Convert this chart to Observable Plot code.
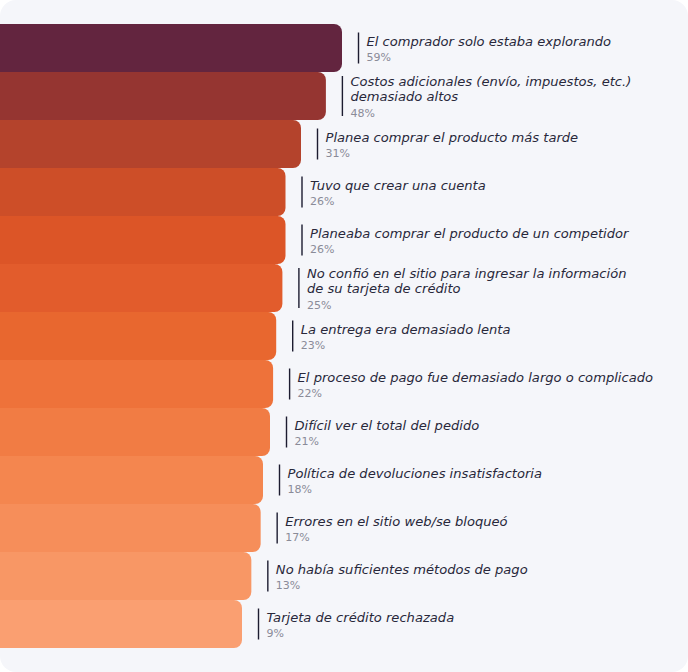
<!DOCTYPE html>
<html>
<head>
<meta charset="utf-8">
<script src="https://cdn.jsdelivr.net/npm/d3@7"></script>
<script src="https://cdn.jsdelivr.net/npm/@observablehq/plot@0.6"></script>
<style>
  html, body { margin: 0; padding: 0; background: #ffffff; }
  #card { width: 688px; height: 672px; background: #f5f6fa; border-radius: 16px; overflow: hidden; }
</style>
</head>
<body>
<div id="card"></div>
<script>
const labels = [
  "El comprador solo estaba explorando",
  "Costos adicionales (envío, impuestos, etc.)\ndemasiado altos",
  "Planea comprar el producto más tarde",
  "Tuvo que crear una cuenta",
  "Planeaba comprar el producto de un competidor",
  "No confió en el sitio para ingresar la información\nde su tarjeta de crédito",
  "La entrega era demasiado lenta",
  "El proceso de pago fue demasiado largo o complicado",
  "Difícil ver el total del pedido",
  "Política de devoluciones insatisfactoria",
  "Errores en el sitio web/se bloqueó",
  "No había suficientes métodos de pago",
  "Tarjeta de crédito rechazada"
];
const values = [59, 48, 31, 26, 26, 25, 23, 22, 21, 18, 17, 13, 9];
const colors = [
  "#63253f", "#953531", "#b4432c", "#cd4e28", "#dc5527", "#e25c2c", "#e8672f",
  "#ee723a", "#f17c44", "#f4864f", "#f68e5a", "#f89765", "#fa9f71"
];

const data = labels.map((label, i) => {
  const nLines = label.split("\n").length;
  return {
    label,
    value: values[i],
    color: colors[i],
    nLines,
    title: label + "\n",
    pct: "\n".repeat(nLines) + values[i] + "%"
  };
});

const chart = Plot.plot({
  width: 688,
  height: 672,
  style: { background: "transparent", overflow: "hidden" },
  x: { type: "linear", domain: [0, 9, 21, 31, 59], range: [-20, 242, 270, 301, 342], axis: null },
  y: { type: "band", domain: labels, range: [24, 648], padding: 0, axis: null },
  marks: [
    Plot.barX(data, { x: "value", y: "label", fill: "color", rx: 8 }),
    Plot.ruleX(data.filter(d => d.nLines === 1), {
      x: "value", y1: "label", y2: "label", dx: 16, insetTop: 8.5, insetBottom: 8.5,
      stroke: "#1c1c30", strokeWidth: 1.4
    }),
    Plot.ruleX(data.filter(d => d.nLines === 2), {
      x: "value", y1: "label", y2: "label", dx: 16, insetTop: 4, insetBottom: 4,
      stroke: "#1c1c30", strokeWidth: 1.4
    }),
    Plot.text(data, {
      x: "value", y: "label", text: "title", dx: 24, textAnchor: "start",
      fontSize: 13.1, fontStyle: "italic", fill: "#28283a",
      fontFamily: "'DejaVu Sans', sans-serif", lineHeight: 15.5 / 13.1
    }),
    Plot.text(data, {
      x: "value", y: "label", text: "pct", dx: 24, textAnchor: "start",
      fontSize: 11, fill: "#8a8b98",
      fontFamily: "'DejaVu Sans', sans-serif", lineHeight: 15.5 / 11
    })
  ]
});
document.getElementById("card").appendChild(chart);
</script>
</body>
</html>
